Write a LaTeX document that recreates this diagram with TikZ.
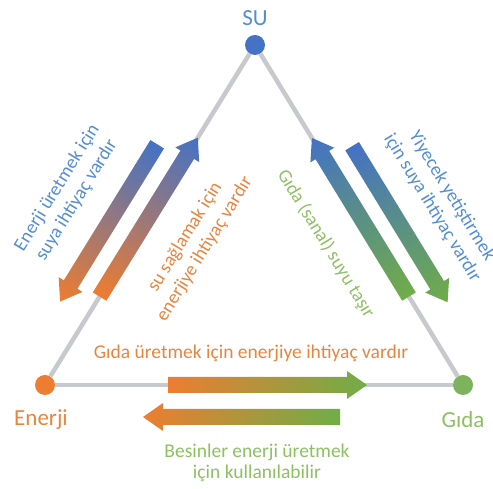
\documentclass[tikz,border=0pt]{standalone}
\usepackage{fontspec}
\setmainfont{Carlito}
\usetikzlibrary{calc}
\definecolor{cblue}{HTML}{4472C4}
\definecolor{corange}{HTML}{ED7D31}
\definecolor{cgreen}{HTML}{70AD47}
\definecolor{dgreen}{HTML}{7DB25F}
\definecolor{tblue}{HTML}{548DD4}
\definecolor{torange}{HTML}{E9843E}
\definecolor{tgreen}{HTML}{8DC063}
\definecolor{edgegray}{HTML}{C8C9CD}
\tikzset{
  dot/.style={circle, inner sep=0pt, minimum size=20pt},
  edge/.style={draw=edgegray, line width=4.5pt},
  lab/.style={font=\fontsize{23}{27}\selectfont, inner sep=0pt},
  small/.style={font=\fontsize{19.5}{21}\selectfont, align=center, inner sep=0pt},
  slant/.style={font=\fontsize{19}{23}\selectfont, align=center, inner sep=0pt},
}
\makeatletter
\newcommand\gradarrow[4]{%
  \pgfpointdiff{\pgfpointanchor{#1}{center}}{\pgfpointanchor{#2}{center}}%
  \edef\GAdx{\the\pgf@x}\edef\GAdy{\the\pgf@y}%
  \pgfmathsetmacro\GAang{atan2(\GAdy,\GAdx)}%
  \pgfmathsetmacro\GAlen{veclen(\GAdx,\GAdy)}%
  \pgfpointanchor{#1}{center}%
  \edef\GAx{\the\pgf@x}\edef\GAy{\the\pgf@y}%
  \begin{scope}[transform canvas={shift={(\GAx,\GAy)},rotate=\GAang}]
    \shade[left color=#3,right color=#4]
      (0pt,-8pt) -- ({\GAlen pt-20pt},-8pt) -- ({\GAlen pt-20pt},-14pt)
      -- (\GAlen pt,0pt) -- ({\GAlen pt-20pt},14pt) -- ({\GAlen pt-20pt},8pt)
      -- (0pt,8pt) -- cycle;
  \end{scope}
}
\makeatother
\begin{document}
\begin{tikzpicture}[x=1pt,y=1pt]
\useasboundingbox (0,0) rectangle (493,489);
% vertices
\node[dot, fill=cblue] (su) at (255,444) {};
\node[dot, fill=corange] (en) at (45,104) {};
\node[dot, fill=dgreen] (gd) at (463,104) {};
\draw[edge] (su) -- (en);
\draw[edge] (en) -- (gd);
\draw[edge] (gd) -- (su);
% vertex labels
\node[lab, text=tblue] (lsu) at (255,471) {SU};
\node[lab, text=torange] (len) at (41,69) {Enerji};
\node[lab, text=tgreen] (lgd) at (463,69) {Gıda};
% arrow end points
\coordinate (aT) at (157.2,344.7); \coordinate (aH) at (60.1,187.4);
\coordinate (bT) at (99.6,192.4);  \coordinate (bH) at (197.8,351.3);
\coordinate (cT) at (409,192.4);   \coordinate (cH) at (311.9,351);
\coordinate (dT) at (352.1,342.8); \coordinate (dH) at (447.6,186.7);
\coordinate (eT) at (168,104);     \coordinate (eH) at (367,104);
\coordinate (fT) at (340,72);      \coordinate (fH) at (143,72);
\gradarrow{aT}{aH}{cblue}{corange}
\gradarrow{bT}{bH}{corange}{cblue}
\gradarrow{cT}{cH}{cgreen}{cblue}
\gradarrow{dT}{dH}{cblue}{cgreen}
\gradarrow{eT}{eH}{corange}{cgreen}
\gradarrow{fT}{fH}{cgreen}{corange}
% texts
\node[slant, text=tblue, rotate=58.3] (tew) at (67,295) {Enerji üretmek için\\suya ihtiyaç vardır};
\node[slant, text=torange, rotate=58.3] (twe) at (195,246) {su sağlamak için\\enerjiye ihtiyaç vardır};
\node[slant, text=tgreen, rotate=-58.5] (tfw) at (326,245) {Gıda (sanal) suyu taşır};
\node[slant, text=tblue, rotate=-58.5] (twf) at (442,287) {Yiyecek yetiştirmek\\için suya ihtiyaç vardır};
\node[small, text=torange] (tef) at (251,136) {Gıda üretmek için enerjiye ihtiyaç vardır};
\node[small, text=tgreen] (tfe) at (257,26) {Besinler enerji üretmek\\için kullanılabilir};
\end{tikzpicture}
\end{document}
